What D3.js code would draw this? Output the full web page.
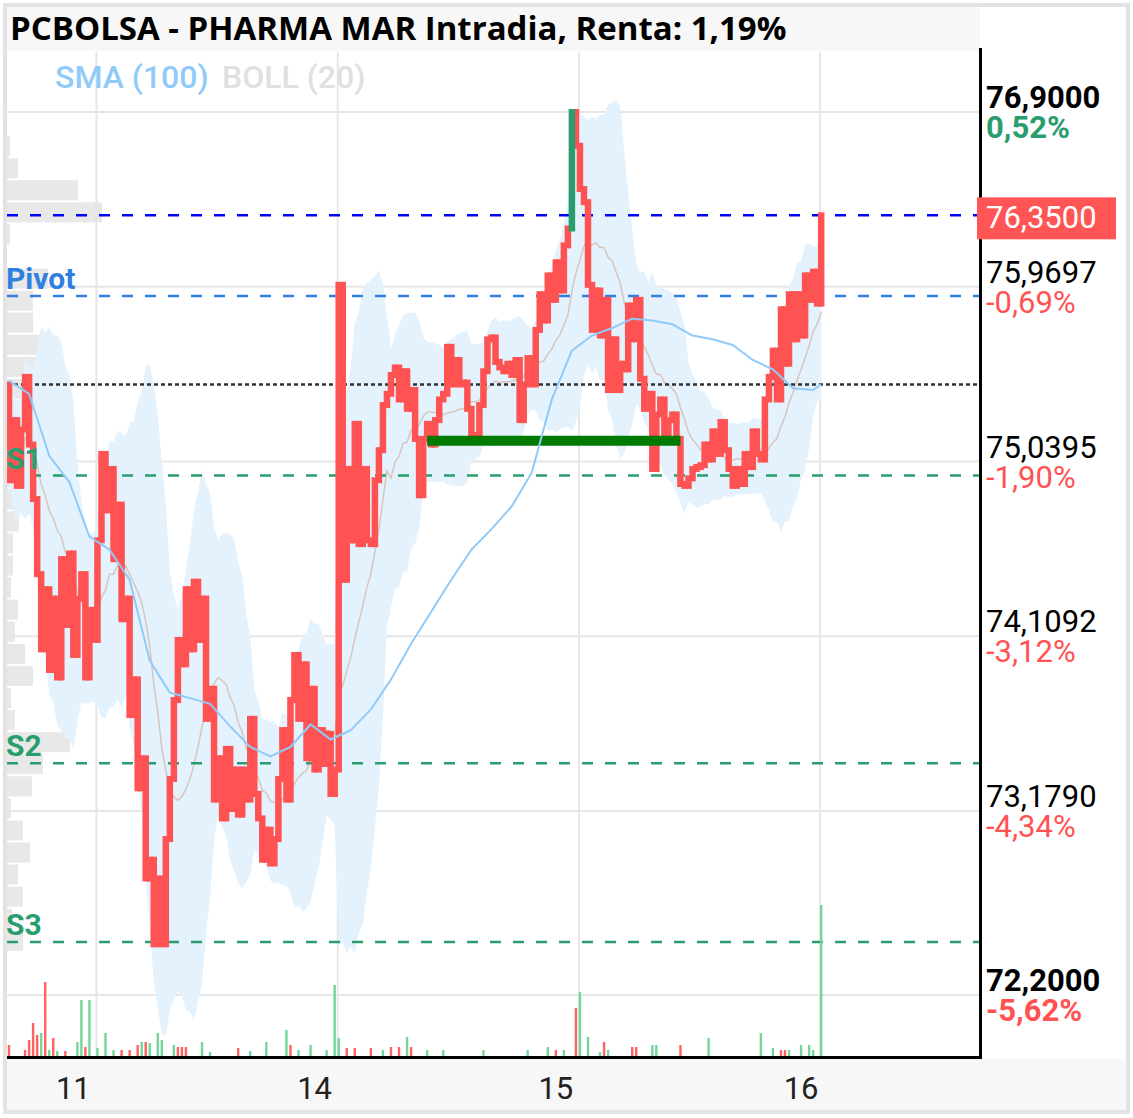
<!DOCTYPE html>
<html>
<head>
<meta charset="utf-8">
<script src="https://cdn.jsdelivr.net/npm/d3@7/dist/d3.min.js"></script>
<style>
  body { margin: 0; background: #fff; }
  #chart svg { display: block; }
</style>
</head>
<body>
<div id="chart"></div>
<script>
// ---- values ----
const title = "PCBOLSA - PHARMA MAR Intradia, Renta: 1,19%";

const firstOpen = 75.45;
// close of every intraday bar, oldest first (open = previous close)
const closes = [
  74.94, 75.26, 74.91, 75.21, 75.49, 75.13, 74.84, 74.44, 74.04, 74.36,
  73.93, 74.31, 73.89, 74.52, 74.17, 74.55, 74.01, 74.31, 74.44, 73.89,
  74.25, 74.09, 74.62,
  75.08, 74.78, 75.00, 74.52, 74.81, 74.20, 74.31, 73.69, 73.88, 73.30,
  73.46, 72.82, 72.92, 72.47, 72.82, 72.47, 73.03, 73.35, 73.77, 74.09,
  73.96, 74.36, 74.04, 74.40, 74.09, 74.31, 73.67, 73.83, 73.24, 73.46,
  73.14, 73.51, 73.19, 73.40, 73.16, 73.40, 73.24, 73.67, 73.27, 73.14,
  72.92, 73.08, 72.90, 73.03, 73.35, 73.61, 73.24, 73.77, 74.01, 73.67,
  73.96, 73.46, 73.83, 73.40, 73.61, 73.43, 73.59, 73.27, 73.40,
  75.98, 74.41, 75.00, 74.62, 75.24, 74.60, 75.00, 74.62, 74.60, 74.94,
  75.10, 75.34, 75.40, 75.50, 75.54, 75.37, 75.52, 75.32, 75.42, 75.16,
  74.86, 75.16, 75.24, 75.13, 75.26, 75.37, 75.40, 75.65, 75.45, 75.58,
  75.45, 75.46, 75.32, 75.18, 75.17, 75.34, 75.52, 75.69, 75.70, 75.57,
  75.54, 75.52, 75.56, 75.50, 75.58, 75.26, 75.45, 75.59, 75.45, 75.74,
  75.93, 75.79, 76.03, 75.90, 76.10, 75.95, 76.19, 76.28, 76.90, 76.72,
  76.49, 76.42, 75.98, 75.74, 75.95, 75.71, 75.90, 75.42, 75.69, 75.42,
  75.56, 75.53, 75.87, 75.69, 75.90, 75.48, 75.32, 75.40, 75.00, 75.29,
  75.37, 75.16, 75.26, 75.29, 75.16, 74.92, 74.91, 74.95, 75.00, 75.01,
  75.02, 75.13, 75.05, 75.20, 75.08, 75.25, 75.10, 75.00, 74.91, 75.00,
  74.92, 75.08, 75.01, 75.20, 75.08, 75.05, 75.37, 75.49, 75.63, 75.37,
  75.85, 75.56, 75.93, 75.69, 75.93, 75.71, 76.03, 75.90, 76.05, 75.88,
  76.35
];
const greenCandles = [140];

// SMA(100) read every 5 bars, plus the last bar
const sma100 = [
  75.47, 75.40, 75.07, 74.93, 74.64, 74.57, 74.41, 73.98, 73.81, 73.78,
  73.75, 73.63, 73.52, 73.47, 73.52, 73.64, 73.56, 73.61, 73.72, 73.88,
  74.07, 74.24, 74.41, 74.57, 74.68, 74.80, 74.98, 75.37, 75.63, 75.71,
  75.75, 75.80, 75.79, 75.77, 75.71, 75.69, 75.66, 75.58, 75.53, 75.43,
  75.42, 75.45
];
const smaIndex = d3.range(0, 201, 5).concat([202]);

// [bar, volume in thousands] : positive = buy (green), negative = sell (red)
const volumeBars = [
  [0,-2.4],[4,-1.4],[5,-3.4],[6,-6.8],[7,-4.4],[8,4.8],[9,-15],[10,1.4],[11,-3.8],[12,1.2],
  [14,-1.2],[17,3],[18,11.4],[19,-2],[20,11.4],[22,1.8],[24,4.8],[26,1.4],[28,-1.4],[30,-1.4],
  [32,-2.4],[33,3],[34,-3],[35,2.8],[37,4.8],[38,3.4],[41,2.4],[42,-2],[43,-2],[44,-2],
  [48,3],[50,1],[57,-1.8],[60,1.2],[64,3],[69,5.4],[70,-2.4],[72,1.4],[75,2.4],[79,1.4],
  [81,14.4],[82,3.8],[84,-1.8],[86,-1.8],[90,-1.8],[93,1.4],[95,-2],[97,-2],[99,4],[100,-2],
  [104,1.4],[108,1.4],[118,1.4],[129,1.4],[134,2],[136,-1.4],[138,1.4],[141,-9.8],[142,13],[144,4],
  [147,1],[148,-3],[149,1.4],[155,-2],[156,-2],[160,2.4],[161,2.4],[167,-2.4],[174,3.8],[187,4.8],
  [190,1.8],[192,-1.4],[193,-1.4],[194,1.4],[197,2.4],[199,2.4],[200,1.4],[202,30.4]
];

// volume by price, 40 bins from 76.9 down to 72.2
const profileVolumes = [
  0, 3, 11, 71, 95, 3, 0, 41, 26, 26,
  35, 35, 35, 30, 30, 32, 30, 20, 12, 6,
  6, 4, 11, 8, 18, 26, 4, 8, 63, 36,
  25, 4, 16, 23, 11, 16, 5, 16, 0, 0
];

const priceTicks = [76.9, 75.9697, 75.0395, 74.1092, 73.179, 72.2];
const priceLabels = ["76,9000", "75,9697", "75,0395", "74,1092", "73,1790", "72,2000"];
const pctLabels = ["0,52%", "-0,69%", "-1,90%", "-3,12%", "-4,34%", "-5,62%"];

const lastPrice = 76.35;
const prevClose = 75.45;
const levelNames = ["Pivot", "S1", "S2", "S3"];
const levelValues = [75.92, 74.965, 73.434, 72.482];

const supportFrom = 104, supportTo = 167, supportPrice = 75.15;

const dayLabels = ["11", "14", "15", "16"];
const dayLabelAt = [16, 76, 136, 197];
const dayStartAt = [21.75, 81.75, 141.75, 201.75];

// ---- layout ----
const width = 1133, height = 1118;
const plotL = 7, plotR = 980, plotT = 52, plotB = 1057;
const red = "#ff5252", green = "#2a9d6e";
const bollBars = 13; // 20 five-minute bars span about 13 of the bars drawn here

const x = d3.scaleLinear().domain([-0.5, 241.5]).range([plotL, plotR]);
const y = d3.scaleLinear().domain([72.2, 76.9]).range([995, 112]);
const vy = d3.scaleLinear().domain([0, 30.4]).range([plotB, 905]);
const px = d3.scaleLinear().domain([0, 95]).range([0, 95]);

const svg = d3.select("#chart").append("svg")
    .attr("width", width)
    .attr("height", height)
    .style("font-family", "Roboto, sans-serif");

svg.append("rect").attr("width", width).attr("height", height).attr("fill", "#fff");

// title bar and bottom strip
svg.append("rect").attr("x", 7).attr("y", 7).attr("width", plotR - 7).attr("height", 44).attr("fill", "#f7f7f7");
svg.append("rect").attr("x", 7).attr("y", plotB + 2).attr("width", 1121).attr("height", 52).attr("fill", "#f7f7f7");

svg.append("text")
    .attr("x", 10).attr("y", 40)
    .style("font-family", "'Open Sans', sans-serif")
    .attr("font-weight", "bold")
    .attr("font-size", 33)
    .attr("fill", "#000")
    .text(title);

svg.append("clipPath").attr("id", "plot")
  .append("rect").attr("x", plotL).attr("y", plotT).attr("width", plotR - plotL).attr("height", plotB - plotT);

const plot = svg.append("g").attr("clip-path", "url(#plot)");

// grid
plot.append("g").selectAll("line")
  .data(dayStartAt)
  .join("line")
    .attr("x1", d => x(d)).attr("x2", d => x(d))
    .attr("y1", plotT).attr("y2", plotB)
    .attr("stroke", "#e6e6e6").attr("stroke-width", 2);

plot.append("g").selectAll("line")
  .data(priceTicks)
  .join("line")
    .attr("x1", plotL).attr("x2", plotR)
    .attr("y1", d => y(d)).attr("y2", d => y(d))
    .attr("stroke", "#e6e6e6").attr("stroke-width", 2);

// volume profile on the left
const binSize = (76.9 - 72.2) / profileVolumes.length;
plot.append("g").selectAll("rect")
  .data(profileVolumes)
  .join("rect")
    .attr("x", plotL)
    .attr("y", (d, k) => y(76.9 - k * binSize) + 2)
    .attr("width", d => px(d))
    .attr("height", (d, k) => y(76.9 - (k + 1) * binSize) - y(76.9 - k * binSize) - 2)
    .attr("fill", "#e4e4e4")
    .attr("fill-opacity", 0.85);

// Bollinger band from the closes
const boll = closes.map((c, i) => {
  const win = closes.slice(Math.max(0, i - bollBars + 1), i + 1);
  const m = d3.mean(win);
  const sd = Math.sqrt(d3.mean(win, v => (v - m) * (v - m)));
  return {i: i, mid: m, up: m + 2 * sd, lo: m - 2 * sd};
});

plot.append("path")
    .datum(boll)
    .attr("fill", "#e3f2fd")
    .attr("d", d3.area().x(d => x(d.i)).y0(d => y(d.lo)).y1(d => y(d.up)));

plot.append("path")
    .datum(boll)
    .attr("fill", "none")
    .attr("stroke", "#d8c6be")
    .attr("stroke-width", 1.5)
    .attr("d", d3.line().x(d => x(d.i)).y(d => y(d.mid)));

// level lines
const dashed = (value, color, dash) => plot.append("line")
    .attr("x1", plotL).attr("x2", plotR)
    .attr("y1", y(value)).attr("y2", y(value))
    .attr("stroke", color).attr("stroke-width", 2.5)
    .attr("stroke-dasharray", dash);

dashed(lastPrice, "#0000ff", "11 12");
dashed(prevClose, "#333", "4 3");
levelValues.forEach((v, k) => dashed(v, k === 0 ? "#2f80e0" : green, "11 12"));

// volume bars
plot.append("g").selectAll("rect")
  .data(volumeBars)
  .join("rect")
    .attr("x", d => x(d[0]) - 1.2)
    .attr("width", 2.4)
    .attr("y", d => vy(Math.abs(d[1])))
    .attr("height", d => plotB - vy(Math.abs(d[1])))
    .attr("fill", d => d[1] > 0 ? "#74d69c" : "#ff6262");

// candles
const candles = closes.map((c, i) => ({
  i: i,
  o: i === 0 ? firstOpen : closes[i - 1],
  c: c,
  up: greenCandles.includes(i)
})).sort((a, b) => a.up - b.up);

plot.append("g").selectAll("rect")
  .data(candles)
  .join("rect")
    .attr("x", d => x(d.i) - 3.25)
    .attr("width", 6.5)
    .attr("y", d => y(Math.max(d.o, d.c)) - 3)
    .attr("height", d => Math.abs(y(d.o) - y(d.c)) + 6)
    .attr("fill", d => d.up ? green : red);

// support segment
plot.append("line")
    .attr("x1", x(supportFrom)).attr("x2", x(supportTo))
    .attr("y1", y(supportPrice)).attr("y2", y(supportPrice))
    .attr("stroke", "#007a00").attr("stroke-width", 10);

// SMA (100)
plot.append("path")
    .datum(sma100)
    .attr("fill", "none")
    .attr("stroke", "#90caf9")
    .attr("stroke-width", 2)
    .attr("d", d3.line().x((d, k) => x(smaIndex[k])).y(d => y(d)));

// level names
svg.append("g").selectAll("text")
  .data(levelValues)
  .join("text")
    .attr("x", 6)
    .attr("y", d => y(d) - 7)
    .attr("font-size", 30)
    .attr("font-weight", "bold")
    .attr("fill", (d, k) => k === 0 ? "#2f80e0" : green)
    .text((d, k) => levelNames[k]);

// legend
svg.append("text").attr("x", 55).attr("y", 88)
    .attr("font-size", 32).attr("font-weight", 500).attr("fill", "#90caf9").text("SMA (100)");
svg.append("text").attr("x", 222).attr("y", 88)
    .attr("font-size", 32).attr("font-weight", 500).attr("fill", "#e0e0e0").text("BOLL (20)");

// axes
svg.append("line").attr("x1", plotR + 0.5).attr("x2", plotR + 0.5).attr("y1", 48).attr("y2", plotB + 2)
    .attr("stroke", "#000").attr("stroke-width", 3);
svg.append("line").attr("x1", plotL).attr("x2", plotR + 2).attr("y1", plotB + 0.5).attr("y2", plotB + 0.5)
    .attr("stroke", "#000").attr("stroke-width", 3);

// right price labels
const rightLabels = svg.append("g");
rightLabels.selectAll("text.price")
  .data(priceTicks)
  .join("text")
    .attr("class", "price")
    .attr("x", 986)
    .attr("y", d => y(d) - 4)
    .attr("font-size", 31)
    .attr("font-weight", (d, k) => (k === 0 || k === priceTicks.length - 1) ? "bold" : "normal")
    .attr("fill", "#000")
    .text((d, k) => priceLabels[k]);

rightLabels.selectAll("text.pct")
  .data(priceTicks)
  .join("text")
    .attr("class", "pct")
    .attr("x", 986)
    .attr("y", d => y(d) + 26)
    .attr("font-size", 31)
    .attr("font-weight", (d, k) => (k === 0 || k === priceTicks.length - 1) ? "bold" : "normal")
    .attr("fill", (d, k) => pctLabels[k].startsWith("-") ? red : green)
    .text((d, k) => pctLabels[k]);

// last price tag
svg.append("rect")
    .attr("x", 977).attr("y", y(lastPrice) - 18)
    .attr("width", 139).attr("height", 42)
    .attr("fill", "#ff5555");
svg.append("text")
    .attr("x", 986).attr("y", y(lastPrice) + 13)
    .attr("font-size", 31).attr("fill", "#fff")
    .text(d3.format(".4f")(lastPrice).replace(".", ","));

// day labels
svg.append("g").selectAll("text")
  .data(dayLabelAt)
  .join("text")
    .attr("x", d => x(d))
    .attr("y", 1099)
    .attr("text-anchor", "middle")
    .attr("font-size", 31)
    .attr("fill", "#222")
    .text((d, k) => dayLabels[k]);

// outer frame
svg.append("rect")
    .attr("x", 5).attr("y", 5).attr("width", 1123).attr("height", 1107)
    .attr("fill", "none").attr("stroke", "#e3e3e3").attr("stroke-width", 4);
</script>
</body>
</html>
